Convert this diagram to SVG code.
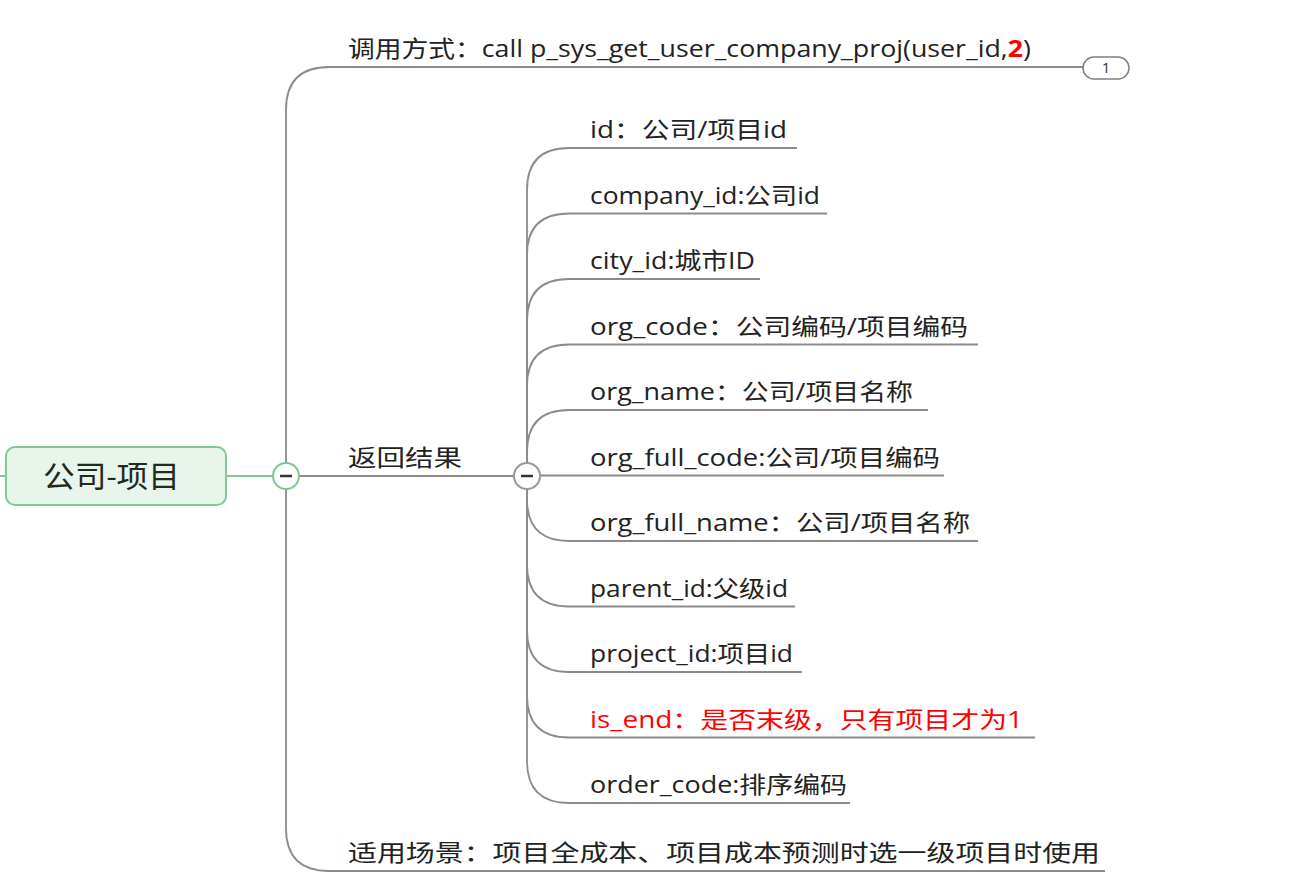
<svg xmlns="http://www.w3.org/2000/svg" width="1292" height="892" viewBox="0 0 1292 892">
<defs>
<style>
.t{font-family:"Open Sans","Noto Sans CJK SC",sans-serif;font-size:23px;fill:#222}
.red{fill:#ff0000}
.c{fill:none;stroke:#8c8c8c;stroke-width:1.8}
.g{fill:none;stroke:#7fc792;stroke-width:2}
</style>
</defs>
<rect width="1292" height="892" fill="#fff"/>
<g id="connectors">
<line class="g" x1="0" y1="476" x2="6" y2="476"/>
<line class="g" x1="226" y1="476" x2="274" y2="476"/>
<path class="c" d="M286,476 V110 Q286,67 329,67 H1083"/>
<path class="c" d="M299,476 H514"/>
<path class="c" d="M286,476 V828 Q286,871 329,871 H1105"/>
<path class="c" d="M527,476 V190 Q527,148 569,148 H797"/>
<path class="c" d="M527,476 V255 Q527,213.5 569,213.5 H827"/>
<path class="c" d="M527,476 V321 Q527,279 569,279 H760"/>
<path class="c" d="M527,476 V386 Q527,344.5 569,344.5 H978"/>
<path class="c" d="M527,476 V452 Q527,410 569,410 H928"/>
<path class="c" d="M540,475.5 H944"/>
<path class="c" d="M527,476 V499 Q527,541 569,541 H978"/>
<path class="c" d="M527,476 V564.5 Q527,606.5 569,606.5 H795"/>
<path class="c" d="M527,476 V630 Q527,672 569,672 H802"/>
<path class="c" d="M527,476 V695.5 Q527,737.5 569,737.5 H1035"/>
<path class="c" d="M527,476 V761 Q527,803 569,803 H850"/>
</g>
<g id="root">
<rect x="6" y="447" width="220" height="58" rx="9" fill="#e9f4eb" stroke="#80c994" stroke-width="2"/>
<text class="t" x="43" y="487" font-size="30" textLength="137" lengthAdjust="spacingAndGlyphs" style="font-size:30px;fill:#1e2a22">公司-项目</text>
</g>
<g id="root-toggle">
<circle cx="286" cy="476" r="13" fill="#fff" stroke="#7fc792" stroke-width="2"/>
<line x1="280" y1="476" x2="292" y2="476" stroke="#333" stroke-width="2.5"/>
</g>
<g id="call">
<text class="t" x="348" y="57" textLength="683" lengthAdjust="spacingAndGlyphs">调用方式：call p_sys_get_user_company_proj(user_id,<tspan class="red" font-weight="bold">2</tspan>)</text>
<rect x="1083" y="57" width="46" height="22" rx="11" fill="#fff" stroke="#808080" stroke-width="1.5"/>
<text x="1106" y="73" text-anchor="middle" style="font-family:'Open Sans',sans-serif;font-size:15px;fill:#333">1</text>
</g>
<g id="result">
<text class="t" x="348" y="466" textLength="114" lengthAdjust="spacingAndGlyphs">返回结果</text>
</g>
<g id="result-toggle">
<circle cx="527" cy="476" r="13" fill="#fff" stroke="#999" stroke-width="2"/>
<line x1="521" y1="476" x2="533" y2="476" stroke="#333" stroke-width="2.5"/>
</g>
<g id="scene">
<text class="t" x="348" y="861" textLength="752" lengthAdjust="spacingAndGlyphs">适用场景：项目全成本、项目成本预测时选一级项目时使用</text>
</g>
<g id="f-id"><text class="t" x="590" y="138" textLength="197" lengthAdjust="spacingAndGlyphs">id：公司/项目id</text></g>
<g id="f-company"><text class="t" x="590" y="203.5" textLength="230" lengthAdjust="spacingAndGlyphs">company_id:公司id</text></g>
<g id="f-city"><text class="t" x="590" y="269" textLength="165" lengthAdjust="spacingAndGlyphs">city_id:城市ID</text></g>
<g id="f-orgcode"><text class="t" x="590" y="334.5" textLength="378" lengthAdjust="spacingAndGlyphs">org_code：公司编码/项目编码</text></g>
<g id="f-orgname"><text class="t" x="590" y="400" textLength="323" lengthAdjust="spacingAndGlyphs">org_name：公司/项目名称</text></g>
<g id="f-orgfullcode"><text class="t" x="590" y="465.5" textLength="350" lengthAdjust="spacingAndGlyphs">org_full_code:公司/项目编码</text></g>
<g id="f-orgfullname"><text class="t" x="590" y="531" textLength="380" lengthAdjust="spacingAndGlyphs">org_full_name：公司/项目名称</text></g>
<g id="f-parent"><text class="t" x="590" y="596.5" textLength="198" lengthAdjust="spacingAndGlyphs">parent_id:父级id</text></g>
<g id="f-project"><text class="t" x="590" y="662" textLength="203" lengthAdjust="spacingAndGlyphs">project_id:项目id</text></g>
<g id="f-isend"><text class="t red" x="590" y="727.5" textLength="433" lengthAdjust="spacingAndGlyphs">is_end：是否末级，只有项目才为1</text></g>
<g id="f-order"><text class="t" x="590" y="793" textLength="257" lengthAdjust="spacingAndGlyphs">order_code:排序编码</text></g>
</svg>
